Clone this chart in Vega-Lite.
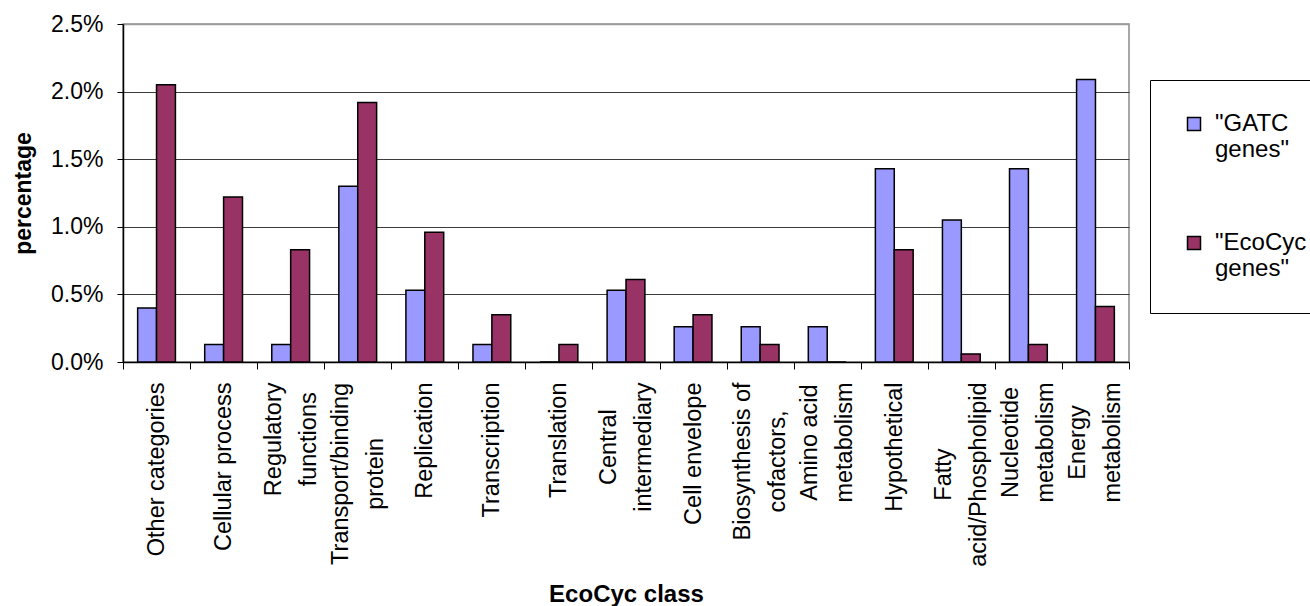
{
  "$schema": "https://vega.github.io/schema/vega-lite/v6.json",
  "width": 1006,
  "height": 338,
  "autosize": {"type": "none"},
  "padding": {"left": 123, "top": 24, "right": 181, "bottom": 244},
  "background": "white",
  "config": {
    "font": "Liberation Sans",
    "view": {"stroke": "#8c8c8c", "strokeWidth": 1.5}
  },
  "data": {
    "values": [
      {"category": "Other categories", "series": "\"GATC genes\"", "percentage": 0.40},
      {"category": "Other categories", "series": "\"EcoCyc genes\"", "percentage": 2.05},
      {"category": "Cellular process", "series": "\"GATC genes\"", "percentage": 0.13},
      {"category": "Cellular process", "series": "\"EcoCyc genes\"", "percentage": 1.22},
      {"category": "Regulatory\nfunctions", "series": "\"GATC genes\"", "percentage": 0.13},
      {"category": "Regulatory\nfunctions", "series": "\"EcoCyc genes\"", "percentage": 0.83},
      {"category": "Transport/binding\nprotein", "series": "\"GATC genes\"", "percentage": 1.30},
      {"category": "Transport/binding\nprotein", "series": "\"EcoCyc genes\"", "percentage": 1.92},
      {"category": "Replication", "series": "\"GATC genes\"", "percentage": 0.53},
      {"category": "Replication", "series": "\"EcoCyc genes\"", "percentage": 0.96},
      {"category": "Transcription", "series": "\"GATC genes\"", "percentage": 0.13},
      {"category": "Transcription", "series": "\"EcoCyc genes\"", "percentage": 0.35},
      {"category": "Translation", "series": "\"GATC genes\"", "percentage": 0},
      {"category": "Translation", "series": "\"EcoCyc genes\"", "percentage": 0.13},
      {"category": "Central\nintermediary", "series": "\"GATC genes\"", "percentage": 0.53},
      {"category": "Central\nintermediary", "series": "\"EcoCyc genes\"", "percentage": 0.61},
      {"category": "Cell envelope", "series": "\"GATC genes\"", "percentage": 0.26},
      {"category": "Cell envelope", "series": "\"EcoCyc genes\"", "percentage": 0.35},
      {"category": "Biosynthesis of\ncofactors,", "series": "\"GATC genes\"", "percentage": 0.26},
      {"category": "Biosynthesis of\ncofactors,", "series": "\"EcoCyc genes\"", "percentage": 0.13},
      {"category": "Amino acid\nmetabolism", "series": "\"GATC genes\"", "percentage": 0.26},
      {"category": "Amino acid\nmetabolism", "series": "\"EcoCyc genes\"", "percentage": 0},
      {"category": "Hypothetical", "series": "\"GATC genes\"", "percentage": 1.43},
      {"category": "Hypothetical", "series": "\"EcoCyc genes\"", "percentage": 0.83},
      {"category": "Fatty\nacid/Phospholipid", "series": "\"GATC genes\"", "percentage": 1.05},
      {"category": "Fatty\nacid/Phospholipid", "series": "\"EcoCyc genes\"", "percentage": 0.06},
      {"category": "Nucleotide\nmetabolism", "series": "\"GATC genes\"", "percentage": 1.43},
      {"category": "Nucleotide\nmetabolism", "series": "\"EcoCyc genes\"", "percentage": 0.13},
      {"category": "Energy\nmetabolism", "series": "\"GATC genes\"", "percentage": 2.09},
      {"category": "Energy\nmetabolism", "series": "\"EcoCyc genes\"", "percentage": 0.41}
    ]
  },
  "mark": {"type": "bar", "stroke": "black", "strokeWidth": 1.5},
  "encoding": {
    "x": {
      "field": "category",
      "type": "nominal",
      "sort": null,
      "scale": {"paddingInner": 0, "paddingOuter": 0},
      "axis": {
        "title": "EcoCyc class",
        "titleFontSize": 24,
        "titleFontWeight": "bold",
        "titleColor": "black",
        "titleY": 232,
        "titleBaseline": "middle",
        "labelAngle": -90,
        "labelAlign": {"condition": {"test": "length(split(datum.value, '\\n')) > 1", "value": "center"}, "value": "right"},
        "labelBaseline": "middle",
        "labelOffset": {"condition": {"test": "length(split(datum.value, '\\n')) > 1", "value": -17.5}, "value": 0},
        "labelPadding": {"condition": {"test": "length(split(datum.value, '\\n')) > 1", "expr": "13 + (datum.value === 'Regulatory\\nfunctions' ? 56.8 : datum.value === 'Transport/binding\\nprotein' ? 91.4 : datum.value === 'Central\\nintermediary' ? 64.6 : datum.value === 'Biosynthesis of\\ncofactors,' ? 79 : datum.value === 'Fatty\\nacid/Phospholipid' ? 92.1 : 60)"}, "value": 13},
        "labelExpr": "split(datum.label, '\\n')",
        "labelFontSize": 23.5,
        "labelLineHeight": 35,
        "labelColor": "black",
        "labelLimit": 400,
        "labelOverlap": false,
        "tickBand": "extent",
        "tickSize": 7,
        "tickColor": "black",
        "domainColor": "black",
        "domainWidth": 1.5,
        "grid": false
      }
    },
    "xOffset": {
      "field": "series",
      "type": "nominal",
      "sort": null,
      "scale": {"paddingInner": 0, "paddingOuter": 0.775}
    },
    "y": {
      "field": "percentage",
      "type": "quantitative",
      "scale": {"domain": [0, 2.5], "nice": false},
      "axis": {
        "title": "percentage",
        "titleFontSize": 23,
        "titleFontWeight": "bold",
        "titleColor": "black",
        "titleX": -100,
        "titleY": 169,
        "titleBaseline": "middle",
        "titleAlign": "center",
        "values": [0, 0.5, 1, 1.5, 2, 2.5],
        "labelExpr": "format(datum.value, '.1f') + '%'",
        "labelFontSize": 23,
        "labelColor": "black",
        "labelPadding": 14,
        "tickSize": 6,
        "tickColor": "black",
        "domainColor": "black",
        "domainWidth": 1.5,
        "grid": true,
        "gridColor": {"condition": {"test": "datum.value >= 2.5", "value": "#9a9a9a"}, "value": "#3c3c3c"},
        "gridWidth": {"condition": {"test": "datum.value >= 2.5", "value": 1.5}, "value": 1}
      }
    },
    "color": {
      "field": "series",
      "type": "nominal",
      "sort": null,
      "scale": {"domain": ["\"GATC genes\"", "\"EcoCyc genes\""], "range": ["#9999FF", "#993366"]},
      "legend": {
        "title": null,
        "orient": "none",
        "legendX": 1027,
        "legendY": 56,
        "direction": "vertical",
        "symbolType": "square",
        "symbolSize": 169,
        "symbolStrokeColor": "black",
        "symbolStrokeWidth": 1.5,
        "labelFontSize": 24,
        "labelLineHeight": 30,
        "labelColor": "black",
        "labelOffset": 9,
        "labelLimit": 300,
        "labelExpr": "split(datum.label, ' ')",
        "rowPadding": 69,
        "padding": 32,
        "strokeColor": "black",
        "fillColor": "white"
      }
    }
  }
}
